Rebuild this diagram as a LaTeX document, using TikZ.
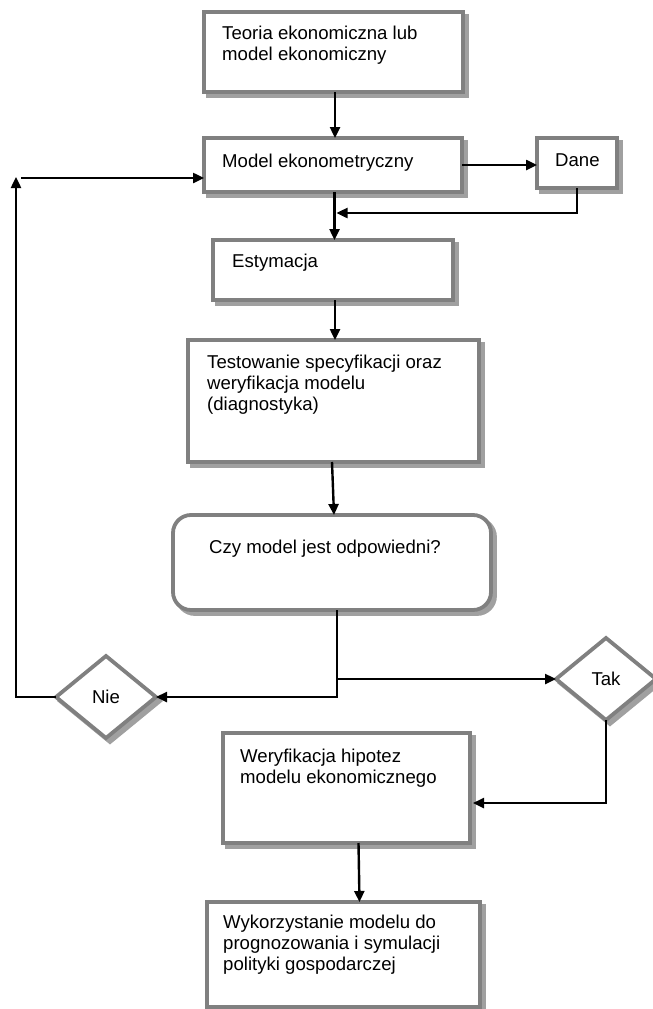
\documentclass[tikz,border=0pt]{standalone}
\usepackage{fontspec}
\setmainfont{Liberation Sans}
\usetikzlibrary{arrows.meta,shapes.geometric,shadows,calc}
\definecolor{boxgray}{RGB}{128,128,128}
\definecolor{shadowgray}{RGB}{160,160,160}
\tikzset{
  boxbase/.style={draw=boxgray, line width=3.8pt, fill=white, inner sep=0pt, outer sep=0pt,
    drop shadow={shadow xshift=4pt, shadow yshift=-4pt, fill=shadowgray, draw=shadowgray, line width=3.8pt, opacity=1}},
  stepbox/.style={boxbase, rectangle, anchor=north west},
  roundbox/.style={boxbase, rectangle, rounded corners=18pt, anchor=north west},
  decision/.style={boxbase, diamond, minimum width=100pt, minimum height=82pt, font=\fontsize{18.6}{21}\selectfont},
  txt/.style={anchor=north west, inner sep=0pt, align=left, font=\fontsize{18.6}{21}\selectfont},
  arr/.style={line width=2.4pt, -{Triangle[length=11pt,width=10pt]}},
}
\begin{document}
\begin{tikzpicture}[x=1pt,y=-1pt]
\useasboundingbox (0,0) rectangle (653,1009);
% boxes
\node[stepbox, minimum width=259pt, minimum height=80pt] (t1) at (204,12) {};
\node[stepbox, minimum width=258pt, minimum height=54pt] (m) at (204,138) {};
\node[stepbox, minimum width=80pt, minimum height=50pt] (d) at (537,138) {};
\node[stepbox, minimum width=240pt, minimum height=60pt] (e) at (213,240) {};
\node[stepbox, minimum width=291pt, minimum height=122pt] (test) at (188,340) {};
\node[roundbox, minimum width=318pt, minimum height=95pt] (czy) at (173,515) {};
\node[decision] (nie) at (106,697) {Nie};
\node[decision] (tak) at (606,679) {Tak};
\node[stepbox, minimum width=247pt, minimum height=110pt] (w) at (223,733) {};
\node[stepbox, minimum width=273pt, minimum height=105pt] (wy) at (207,902) {};
% texts
\node[txt] (t1t) at (222,26) {Teoria ekonomiczna lub\\model ekonomiczny};
\node[txt] (mt) at (222,154) {Model ekonometryczny};
\node[txt] (dt) at (555,154) {Dane};
\node[txt] (et) at (232,254) {Estymacja};
\node[txt] (testt) at (207,355) {Testowanie specyfikacji oraz\\weryfikacja modelu\\(diagnostyka)};
\node[txt] (czyt) at (209,540) {Czy model jest odpowiedni?};
\node[txt] (wt) at (240,749) {Weryfikacja hipotez\\modelu ekonomicznego};
\node[txt] (wyt) at (223,915) {Wykorzystanie modelu do\\prognozowania i symulacji\\polityki gospodarczej};
% coordinates
\coordinate (j1) at (336.5,213);
\coordinate (j2) at (337,679);
\coordinate (j3) at (473,803);
\coordinate (up) at (16,177);
\coordinate (lf) at (21,178);
% connectors
\draw[arr] ([xshift=1.5pt]t1.south) -- ([xshift=1.5pt]t1.south |- m.north);
\draw[arr] (m.east) -- (m.east -| d.west);
\draw[arr] (d.south) |- (j1);
\draw[arr] ([xshift=1.5pt]m.south) -- ([xshift=1.5pt]m.south |- e.north);
\draw[arr] ([xshift=2pt]e.south) -- ([xshift=2pt]e.south |- test.north);
\draw[arr] ([xshift=-1.5pt]test.south) -- ([xshift=0.5pt]test.south |- czy.north);
\draw[arr] ([xshift=5pt]czy.south) |- (nie.east);
\draw[arr] (j2) -- (tak.west);
\draw[arr] (nie.west) -| (up);
\draw[arr] (lf) -- (lf -| m.west);
\draw[arr] (tak.south) |- (j3);
\draw[arr] ([xshift=12pt]w.south) -- ([xshift=16pt]wy.north);
\end{tikzpicture}
\end{document}
